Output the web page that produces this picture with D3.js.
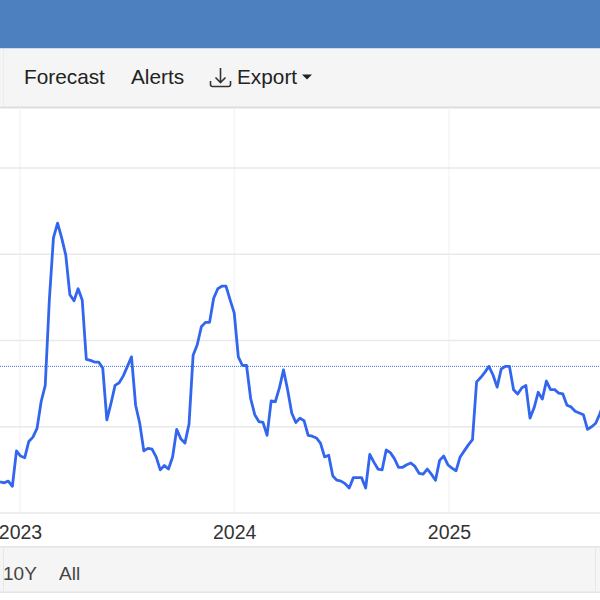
<!DOCTYPE html>
<html>
<head>
<meta charset="utf-8">
<script src="https://cdn.jsdelivr.net/npm/d3@7"></script>
<style>
  html, body { margin: 0; padding: 0; background: #fff; overflow: hidden; }
  svg { display: block; font-family: "Liberation Sans", Arial, sans-serif; }
</style>
</head>
<body>
<script>
// weekly readings, first one on the start date below
const startDate = "2022-11-28";
const values = [
  0.36, 0.35, 0.37, 0.31, 0.72, 0.66, 0.64, 0.83, 0.88, 0.98,
  1.29, 1.48, 2.47, 3.19, 3.36, 3.19, 2.99, 2.53, 2.46, 2.60,
  2.47, 1.78, 1.77, 1.75, 1.75, 1.68, 1.08, 1.27, 1.48, 1.51,
  1.59, 1.70, 1.81, 1.25, 1.04, 0.72, 0.75, 0.74, 0.65, 0.50,
  0.55, 0.51, 0.65, 0.97, 0.86, 0.81, 1.03, 1.83, 1.95, 2.16,
  2.21, 2.21, 2.49, 2.60, 2.63, 2.63, 2.47, 2.32, 1.81, 1.71,
  1.71, 1.33, 1.14, 1.06, 1.05, 0.90, 1.30, 1.29, 1.45, 1.66,
  1.43, 1.16, 1.05, 1.10, 1.07, 0.90, 0.89, 0.87, 0.81, 0.65,
  0.67, 0.43, 0.38, 0.37, 0.34, 0.29, 0.41, 0.41, 0.41, 0.29,
  0.68, 0.59, 0.51, 0.50, 0.73, 0.70, 0.63, 0.53, 0.53, 0.56,
  0.58, 0.54, 0.46, 0.45, 0.51, 0.45, 0.38, 0.61, 0.66, 0.56,
  0.52, 0.49, 0.65, 0.72, 0.79, 0.85, 1.52, 1.57, 1.63, 1.70,
  1.60, 1.46, 1.67, 1.70, 1.70, 1.43, 1.38, 1.45, 1.48, 1.10,
  1.22, 1.40, 1.32, 1.53, 1.43, 1.43, 1.39, 1.38, 1.25, 1.23,
  1.18, 1.16, 1.14, 0.97, 1.00, 1.04, 1.15, 1.28
];
const referenceLevel = 1.70;
const valueTicks = [0, 1, 2, 3, 4];
const yearTicks = [2023, 2024, 2025];
const rangeButtons = ["10Y", "All"];

const width = 600;
const height = 600;

const svg = d3.select("body").append("svg")
  .attr("width", width)
  .attr("height", height);

const parseDate = d3.timeParse("%Y-%m-%d");
const dates = values.map((d, i) => d3.timeDay.offset(parseDate(startDate), i * 7));

const x = d3.scaleTime()
  .domain([new Date(2023, 0, 1), new Date(2025, 0, 1)])
  .range([20, 449]);
const y = d3.scaleLinear()
  .domain([0, 4])
  .range([513, 168]);

// page chrome
svg.append("rect").attr("width", width).attr("height", 48.5).attr("fill", "#4d80bf");
svg.append("rect").attr("y", 48.5).attr("width", width).attr("height", 59).attr("fill", "#f5f5f5");
svg.append("rect").attr("y", 106.5).attr("width", width).attr("height", 2).attr("fill", "#dedede");
svg.append("rect").attr("y", 547).attr("width", width).attr("height", 45).attr("fill", "#f5f5f5");
svg.append("rect").attr("y", 546).attr("width", width).attr("height", 1.5).attr("fill", "#e4e4e4");
svg.append("rect").attr("y", 591.5).attr("width", width).attr("height", 1.5).attr("fill", "#e4e4e4");
svg.append("rect").attr("x", 3).attr("y", 49).attr("width", 1).attr("height", 57).attr("fill", "#ececec");
svg.append("rect").attr("x", 3).attr("y", 548).attr("width", 1).attr("height", 43).attr("fill", "#e6e6e6");
svg.append("rect").attr("x", 595).attr("y", 548).attr("width", 1).attr("height", 43).attr("fill", "#e6e6e6");

// toolbar
const toolbar = svg.append("g").attr("fill", "#222").style("font-size", "20.8px");
toolbar.append("text").attr("x", 24).attr("y", 84).text("Forecast");
toolbar.append("text").attr("x", 131).attr("y", 84).text("Alerts");
toolbar.append("text").attr("x", 237).attr("y", 84).text("Export");
svg.append("path")
  .attr("d", "M220.5 68v14M215.5 77.5l5 5 5-5M210.5 81v3.5q0 2 2 2h16q2 0 2-2V81")
  .attr("fill", "none").attr("stroke", "#333").attr("stroke-width", 1.6);
svg.append("path").attr("d", "M302 74.5h10l-5 5z").attr("fill", "#222");

// grid
const yearDates = yearTicks.map(d => new Date(d, 0, 1));
svg.append("g").selectAll("line").data(yearDates).join("line")
  .attr("x1", d => x(d)).attr("x2", d => x(d))
  .attr("y1", 108).attr("y2", 513)
  .attr("stroke", "#f0f0f4");
svg.append("g").selectAll("line").data(valueTicks).join("line")
  .attr("x1", 0).attr("x2", width)
  .attr("y1", d => y(d)).attr("y2", d => y(d))
  .attr("stroke", "#e9e9e9").attr("stroke-width", 1.5);

// x axis labels
const xAxis = d3.axisBottom(x)
  .tickValues(yearDates)
  .tickSize(0)
  .tickPadding(0)
  .tickFormat(d3.timeFormat("%Y"));
const xAxisG = svg.append("g").attr("transform", "translate(0,521.5)").call(xAxis);
xAxisG.select(".domain").remove();
xAxisG.selectAll("text")
  .attr("fill", "#333")
  .attr("dy", "0.9em")
  .style("font-family", "inherit")
  .style("font-size", "19.5px");

// dotted last-value line
svg.append("line")
  .attr("x1", 0).attr("x2", width)
  .attr("y1", y(referenceLevel)).attr("y2", y(referenceLevel))
  .attr("stroke", "#3f6fe8")
  .attr("stroke-dasharray", "1,1");

const line = d3.line()
  .x((d, i) => x(dates[i]))
  .y(d => y(d));

svg.append("path")
  .datum(values)
  .attr("d", line)
  .attr("fill", "none")
  .attr("stroke", "#3366ee")
  .attr("stroke-width", 2.8)
  .attr("stroke-linejoin", "round");

// range buttons
svg.append("g").attr("fill", "#444").style("font-size", "19px")
  .selectAll("text").data(rangeButtons).join("text")
  .attr("x", (d, i) => i === 0 ? 3 : 59)
  .attr("y", 580)
  .text(d => d);
</script>
</body>
</html>
